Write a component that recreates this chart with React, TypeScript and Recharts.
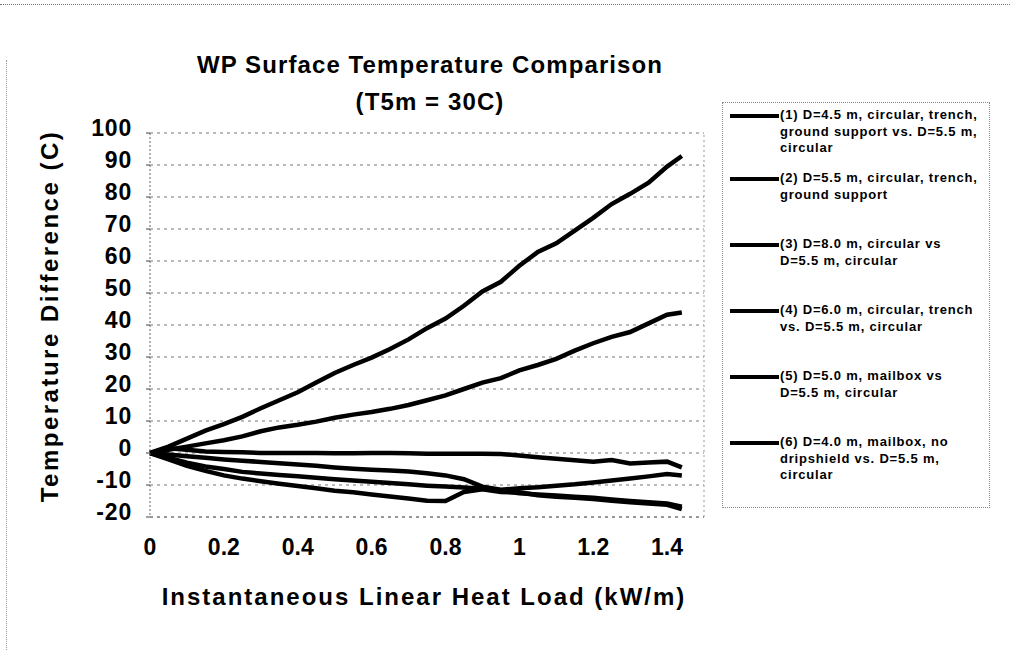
import React from 'react'
import { LineChart, Line, XAxis, YAxis, CartesianGrid, ReferenceLine } from 'recharts'

const FONT = '"Liberation Sans", Arial, sans-serif'

// heat load (kW/m)
const loads = [0, 0.05, 0.1, 0.15, 0.2, 0.25, 0.3, 0.35, 0.4, 0.45, 0.5, 0.55, 0.6, 0.65, 0.7, 0.75, 0.8, 0.85, 0.9, 0.95, 1.0, 1.05, 1.1, 1.15, 1.2, 1.25, 1.3, 1.35, 1.4, 1.44]

// temperature differences (C), one list per case
const case1 = [0, 2, 4.5, 7, 9, 11.3, 14, 16.5, 19, 22, 25, 27.5, 29.8, 32.5, 35.5, 39, 42, 46, 50.5, 53.5, 58.5, 62.8, 65.5, 69.5, 73.5, 77.8, 81, 84.5, 89.5, 92.8]
const case2 = [0, 1, 2, 3, 4, 5.2, 6.8, 8, 8.8, 9.8, 11, 12, 12.8, 13.8, 15, 16.5, 18, 20, 22, 23.4, 25.8, 27.5, 29.4, 32, 34.3, 36.3, 37.8, 40.5, 43.2, 43.9]
const case3 = [0, 1.5, 1, 0.5, 0.3, 0.2, 0, 0, 0, 0, -0.1, -0.1, 0, 0, -0.1, -0.2, -0.2, -0.2, -0.2, -0.3, -0.8, -1.3, -1.8, -2.3, -2.7, -2.2, -3.3, -3, -2.7, -4.5]
const case4 = [0, -0.5, -1, -1.5, -2, -2.4, -2.8, -3.2, -3.6, -4, -4.5, -4.9, -5.2, -5.5, -5.8, -6.3, -7, -8.2, -10.5, -11.5, -11, -10.7, -10.2, -9.8, -9.2, -8.6, -8, -7.3, -6.6, -7]
const case5 = [0, -1.5, -3, -4.2, -5, -5.9, -6.4, -6.9, -7.3, -7.7, -8.2, -8.6, -9, -9.4, -9.8, -10.2, -10.5, -10.8, -11.2, -11.8, -12.6, -13, -13.3, -13.7, -14, -14.5, -15, -15.4, -15.8, -16.8]
const case6 = [0, -2, -4, -5.6, -7, -8, -8.8, -9.6, -10.3, -11, -11.8, -12.3, -13, -13.6, -14.2, -14.9, -15, -12.2, -11.3, -12.2, -12.3, -13.2, -13.7, -14, -14.4, -14.9, -15.4, -15.8, -16.2, -17.5]

const caseNames = [
  '(1) D=4.5 m, circular, trench,\nground support vs. D=5.5 m,\ncircular',
  '(2) D=5.5 m, circular, trench,\nground support',
  '(3) D=8.0 m, circular vs\nD=5.5 m, circular',
  '(4) D=6.0 m, circular, trench\nvs. D=5.5 m, circular',
  '(5) D=5.0 m, mailbox vs\nD=5.5 m, circular',
  '(6) D=4.0 m, mailbox, no\ndripshield vs. D=5.5 m,\ncircular',
]

const xTicks = [0, 0.2, 0.4, 0.6, 0.8, 1, 1.2, 1.4]
const yTicks = [-20, -10, 0, 10, 20, 30, 40, 50, 60, 70, 80, 90, 100]

// legend rows, top of each entry inside the box
const legendTops = [4, 67, 133, 199, 265, 331]

const allCases = [case1, case2, case3, case4, case5, case6]
const data = loads.map((x, i) => {
  const row: Record<string, number> = { x }
  allCases.forEach((c, k) => { row['c' + (k + 1)] = c[i] })
  return row
})

const XTick = ({ x, y, payload }: any) => (
  <text x={x} y={y + 8} textAnchor="middle" dominantBaseline="central"
    style={{ fontFamily: FONT, fontSize: 23, fontWeight: 'bold', fill: '#000' }}>
    {String(Number(payload.value.toFixed(1)))}
  </text>
)

const YTick = ({ x, y, payload }: any) => (
  <text x={x} y={y - 5} textAnchor="end" dominantBaseline="central"
    style={{ fontFamily: FONT, fontSize: 23, fontWeight: 'bold', fill: '#000', letterSpacing: 0.8 }}>
    {payload.value}
  </text>
)

export default function App() {
  return (
    <div style={{
      position: 'absolute', left: 0, top: 0, width: 1010, height: 657, background: '#fff',
      fontFamily: FONT, color: '#000', overflow: 'hidden',
    }}>
      <div style={{ position: 'absolute', left: 0, top: 4, width: 1010, borderTop: '1px dotted #777' }} />
      <div style={{ position: 'absolute', left: 6, top: 60, height: 590, borderLeft: '1px dotted #999' }} />

      <LineChart width={1010} height={657} data={data}
        margin={{ top: 133, right: 306, bottom: 90, left: 90 }}>
        <CartesianGrid horizontal vertical={false} stroke="#777" strokeDasharray="3 4" />
        <XAxis dataKey="x" type="number" domain={[0, 1.5]} ticks={xTicks} height={50}
          tickLine={false} tickSize={0} tickMargin={22} tick={<XTick />}
          axisLine={{ stroke: '#777', strokeDasharray: '3 4' }} />
        <YAxis type="number" domain={[-20, 100]} ticks={yTicks} width={60}
          tickSize={4} tickMargin={14} tick={<YTick />}
          tickLine={{ stroke: '#444' }}
          axisLine={{ stroke: '#666', strokeDasharray: '2 2' }} />
        <ReferenceLine x={1.5} stroke="#999" strokeDasharray="2 3" />
        {allCases.map((_, k) => (
          <Line key={k} type="linear" dataKey={'c' + (k + 1)} stroke="#000" strokeWidth={4.5}
            dot={false} isAnimationActive={false} />
        ))}
      </LineChart>

      <div style={{
        position: 'absolute', left: 130, width: 600, top: 46, textAlign: 'center',
        fontSize: 24, fontWeight: 'bold', lineHeight: '37px', letterSpacing: 1.1, whiteSpace: 'nowrap',
      }}>
        WP Surface Temperature Comparison<br />(T5m = 30C)
      </div>

      <div style={{
        position: 'absolute', left: 124, width: 600, top: 583, textAlign: 'center',
        fontSize: 24, fontWeight: 'bold', lineHeight: '28px', whiteSpace: 'nowrap', letterSpacing: 2,
      }}>
        Instantaneous Linear Heat Load (kW/m)
      </div>

      <div style={{
        position: 'absolute', left: 50 - 220, top: 316 - 14, width: 440, height: 28,
        textAlign: 'center', fontSize: 24, fontWeight: 'bold', lineHeight: '28px',
        transform: 'rotate(-90deg)', whiteSpace: 'nowrap', letterSpacing: 2.5,
      }}>
        Temperature Difference (C)
      </div>

      <div style={{
        position: 'absolute', left: 722, top: 102, width: 268, height: 406,
        border: '1px dotted #888', boxSizing: 'border-box',
      }}>
        {caseNames.map((name, k) => (
          <div key={k} style={{ position: 'absolute', left: 0, top: legendTops[k], display: 'flex', alignItems: 'flex-start' }}>
            <div style={{ marginLeft: 7, marginTop: 6.5, width: 49, height: 4, background: '#000', flexShrink: 0 }} />
            <div style={{
              marginLeft: 1, fontSize: 13, fontWeight: 'bold', lineHeight: '16.5px',
              whiteSpace: 'pre', letterSpacing: 0.8,
            }}>{name}</div>
          </div>
        ))}
      </div>
    </div>
  )
}
